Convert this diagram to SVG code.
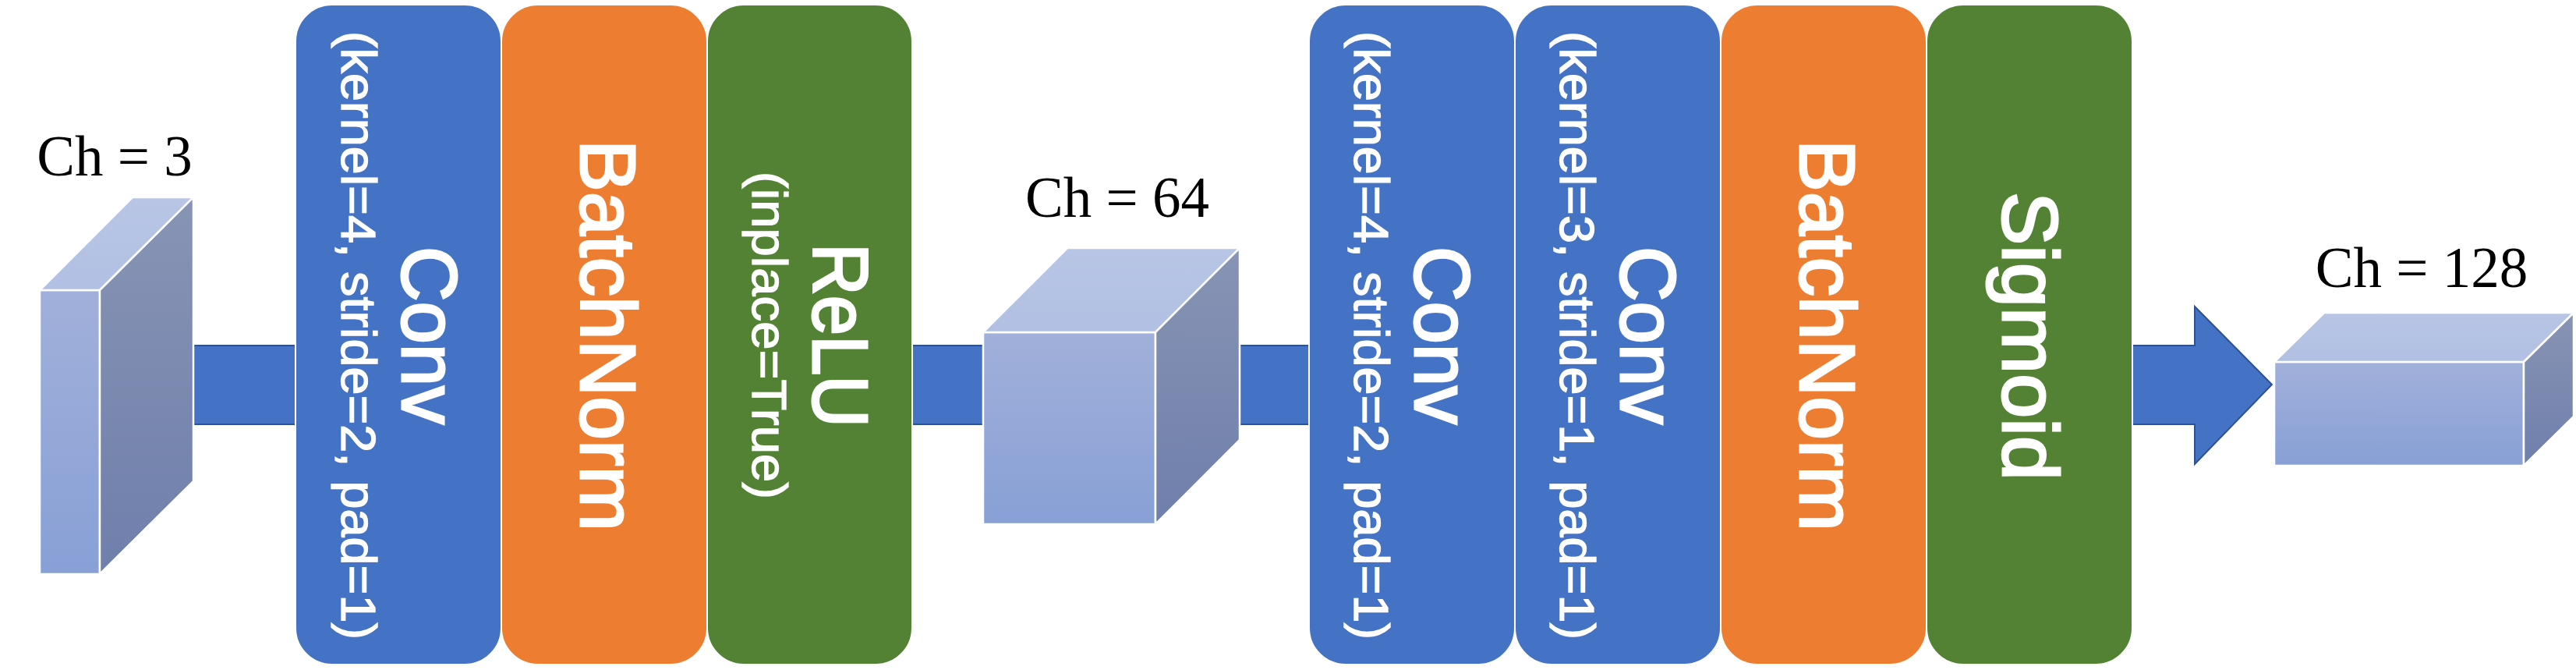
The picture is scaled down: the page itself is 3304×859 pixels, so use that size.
<svg xmlns="http://www.w3.org/2000/svg" width="3304" height="859" viewBox="0 0 3304 859">
<defs>
<linearGradient id="gFront" x1="0" y1="0" x2="0" y2="1"><stop offset="0" stop-color="#A1B0DA"/><stop offset="1" stop-color="#88A0D6"/></linearGradient>
<linearGradient id="gTop" x1="0" y1="0" x2="0" y2="1"><stop offset="0" stop-color="#B8C5E5"/><stop offset="1" stop-color="#B1C0E3"/></linearGradient>
<linearGradient id="gSide" x1="0" y1="0" x2="0" y2="1"><stop offset="0" stop-color="#8894B4"/><stop offset="1" stop-color="#6F7FAC"/></linearGradient>
<style>
.conn{fill:#4472C4;stroke:#2F528F;stroke-width:2}
.box{stroke:#FFFFFF;stroke-width:2}
.blue{fill:#4472C4}
.orange{fill:#ED7D31}
.green{fill:#548235}
.front{fill:url(#gFront);stroke:#FFFFFF;stroke-width:2.5}
.top{fill:url(#gTop);stroke:#FFFFFF;stroke-width:2.5}
.side{fill:url(#gSide);stroke:#FFFFFF;stroke-width:2.5}
.ch{font-family:"Liberation Serif","Times New Roman",serif;font-size:73px;fill:#000000;text-anchor:middle}
.title{font-family:"Liberation Sans",Arial,sans-serif;font-weight:normal;font-size:101px;fill:#FFFFFF;stroke:#FFFFFF;stroke-width:3;text-anchor:middle}
.sub{font-family:"Liberation Sans",Arial,sans-serif;font-weight:normal;font-size:63px;fill:#FFFFFF;stroke:#FFFFFF;stroke-width:1.3;text-anchor:middle}
</style>
</defs>
<rect width="3304" height="859" fill="#FFFFFF"/>

<g id="connectors">
<rect class="conn" x="240" y="443" width="150" height="101"/>
<rect class="conn" x="1160" y="443" width="110" height="101"/>
<rect class="conn" x="1585" y="443" width="105" height="101"/>
<path class="conn" d="M2728,443 H2815 V393 L2914,493 L2815,595 V544 H2728 Z"/>
</g>

<g id="input">
<text class="ch" x="147" y="225">Ch = 3</text>
<polygon class="front" points="51,372 128,372 128,736 51,736"/>
<polygon class="top" points="51,372 170,253 248,253 128,372"/>
<polygon class="side" points="128,372 248,253 248,617 128,736"/>
</g>

<g id="conv1">
<rect class="box blue" x="379" y="6" width="264" height="846" rx="47"/>
<text class="title" transform="translate(516,430) rotate(90)" textLength="228" lengthAdjust="spacingAndGlyphs">Conv</text>
<text class="sub" transform="translate(438,430) rotate(90)" textLength="780" lengthAdjust="spacingAndGlyphs">(kernel=4, stride=2, pad=1)</text>
</g>

<g id="bn1">
<rect class="box orange" x="643" y="6" width="264" height="846" rx="47"/>
<text class="title" transform="translate(745,430) rotate(90)" textLength="502" lengthAdjust="spacingAndGlyphs">BatchNorm</text>
</g>

<g id="relu">
<rect class="box green" x="907" y="6" width="263" height="846" rx="47"/>
<text class="title" transform="translate(1043,430) rotate(90)" textLength="236" lengthAdjust="spacingAndGlyphs">ReLU</text>
<text class="sub" transform="translate(965,430) rotate(90)" textLength="420" lengthAdjust="spacingAndGlyphs">(inplace=True)</text>
</g>

<g id="feat64">
<text class="ch" x="1433" y="278">Ch = 64</text>
<polygon class="front" points="1261,426 1482,426 1482,672 1261,672"/>
<polygon class="top" points="1261,426 1369,318 1590,318 1482,426"/>
<polygon class="side" points="1482,426 1590,318 1590,564 1482,672"/>
</g>

<g id="conv2">
<rect class="box blue" x="1679" y="6" width="264" height="846" rx="47"/>
<text class="title" transform="translate(1815,430) rotate(90)" textLength="228" lengthAdjust="spacingAndGlyphs">Conv</text>
<text class="sub" transform="translate(1737,430) rotate(90)" textLength="780" lengthAdjust="spacingAndGlyphs">(kernel=4, stride=2, pad=1)</text>
</g>

<g id="conv3">
<rect class="box blue" x="1943" y="6" width="264" height="846" rx="47"/>
<text class="title" transform="translate(2079,430) rotate(90)" textLength="228" lengthAdjust="spacingAndGlyphs">Conv</text>
<text class="sub" transform="translate(2001,430) rotate(90)" textLength="780" lengthAdjust="spacingAndGlyphs">(kernel=3, stride=1, pad=1)</text>
</g>

<g id="bn2">
<rect class="box orange" x="2207" y="6" width="264" height="846" rx="47"/>
<text class="title" transform="translate(2309,430) rotate(90)" textLength="502" lengthAdjust="spacingAndGlyphs">BatchNorm</text>
</g>

<g id="sigmoid">
<rect class="box green" x="2471" y="6" width="264" height="846" rx="47"/>
<text class="title" transform="translate(2569,431) rotate(90)" textLength="370" lengthAdjust="spacingAndGlyphs">Sigmoid</text>
</g>

<g id="feat128">
<text class="ch" x="3106" y="368">Ch = 128</text>
<polygon class="front" points="2917,464 3237,464 3237,597 2917,597"/>
<polygon class="top" points="2917,464 2981,401 3301,401 3237,464"/>
<polygon class="side" points="3237,464 3301,401 3301,534 3237,597"/>
</g>
</svg>
